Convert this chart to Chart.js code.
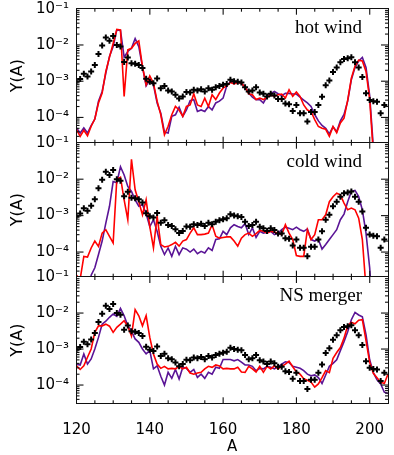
<!DOCTYPE html>
<html>
<head>
<meta charset="utf-8">
<script src="https://cdn.jsdelivr.net/npm/chart.js@4.4.1/dist/chart.umd.min.js"></script>
<style>
  html, body { margin: 0; padding: 0; background: #fff; }
  #wrap { position: relative; width: 394px; height: 455px; }
  #wrap canvas { position: absolute; left: 0; top: 0; }
  .frame { position: absolute; box-sizing: border-box; border: 1.3px solid #111; pointer-events: none; }
</style>
</head>
<body>
<div id="wrap">
  <canvas id="hot-chart" width="394" height="455"></canvas>
  <canvas id="cold-chart" width="394" height="455"></canvas>
  <canvas id="merger-chart" width="394" height="455"></canvas>
  <canvas id="frame-layer" width="394" height="455"></canvas>
</div>
<script>
/* ============================================= */
/*                    Data                       */
/* ============================================= */
const massNumbers = [
  120, 121, 122, 123, 124, 125, 126, 127, 128, 129,
  130, 131, 132, 133, 134, 135, 136, 137, 138, 139,
  140, 141, 142, 143, 144, 145, 146, 147, 148, 149,
  150, 151, 152, 153, 154, 155, 156, 157, 158, 159,
  160, 161, 162, 163, 164, 165, 166, 167, 168, 169,
  170, 171, 172, 173, 174, 175, 176, 177, 178, 179,
  180, 181, 182, 183, 184, 185, 186, 187, 188, 189,
  190, 191, 192, 193, 194, 195, 196, 197, 198, 199,
  200, 201, 202, 203, 204, 205,
];

// black crosses (same in every panel)
const solarAbundance = [
  9.8e-4, 1.14e-3, 1.6e-3, 1.35e-3, 1.85e-3, 2.8e-3, 5.6e-3, 9.6e-3, 1.6e-2, 1.3e-2,
  1.77e-2, 1.0e-2, 9.0e-3, 3.4e-3, 4.5e-3, 3.1e-3, 3.0e-3, 2.8e-3, 2.3e-3, 1.16e-3,
  9.6e-4, 8.8e-4, 1.18e-3, 6.4e-4, 7.4e-4, 5.5e-4, 5.2e-4, 4.2e-4, 3.3e-4, 3.8e-4,
  5.0e-4, 4.9e-4, 5.8e-4, 5.5e-4, 6.0e-4, 5.2e-4, 6.4e-4, 5.8e-4, 6.8e-4, 7.4e-4,
  7.9e-4, 8.4e-4, 1.09e-3, 1.0e-3, 9.6e-4, 9.2e-4, 6.8e-4, 5.2e-4, 5.5e-4, 6.8e-4,
  4.9e-4, 4.5e-4, 3.8e-4, 4.5e-4, 4.0e-4, 3.2e-4, 3.2e-4, 2.4e-4, 2.3e-4, 1.5e-4,
  2.2e-4, 1.3e-4, 1.3e-4, 7.7e-5, 1.4e-4, 1.4e-4, 2.2e-4, 3.7e-4, 7.7e-4, 1.05e-3,
  1.8e-3, 2.4e-3, 3.3e-3, 4.1e-3, 4.3e-3, 4.6e-3, 3.3e-3, 2.4e-3, 1.3e-3, 4.6e-4,
  3.0e-4, 2.8e-4, 2.7e-4, 1.3e-4, 2.2e-4, null,
];

// hot wind
const hotPurple = [
  5.1e-5, 3.7e-5, 5.1e-5, 3.7e-5, 5.9e-5, 9.0e-5, 2.8e-4, 5.2e-4, 1.66e-3, 4.8e-3,
  9.0e-3, 2.6e-2, 2.5e-2, 4.6e-3, 6.6e-3, 8.1e-3, 1.5e-2, 9.0e-3, 2.5e-3, 7.4e-4,
  1.09e-3, 7.9e-4, 2.5e-4, 1.3e-4, 3.9e-5, 3.7e-5, 1.07e-4, 1.18e-4, 1.9e-4, 1.07e-4,
  1.6e-4, 2.9e-4, 3.1e-4, 1.46e-4, 1.6e-4, 1.46e-4, 2.0e-4, 1.6e-4, 2.5e-4, 2.8e-4,
  3.4e-4, 7.4e-4, 9.8e-4, 8.4e-4, 9.8e-4, 8.4e-4, 7.1e-4, 4.7e-4, 3.6e-4, 3.1e-4,
  3.1e-4, 2.5e-4, 3.8e-4, 4.5e-4, 5.2e-4, 4.5e-4, 4.0e-4, 4.6e-4, 4.6e-4, 4.4e-4,
  4.4e-4, 3.6e-4, 3.0e-4, 2.5e-4, 2.0e-4, 1.2e-4, 8.0e-5, 6.0e-5, 5.0e-5, 3.5e-5,
  5.5e-5, 4.0e-5, 8.0e-5, 1.2e-4, 2.8e-4, 1.1e-3, 2.4e-3, 3.6e-3, 4.5e-3, 2.4e-3,
  4.0e-4, 1.5e-5, null, null, null, null,
];
const hotRed = [
  4.6e-5, 3.0e-5, 4.4e-5, 3.1e-5, 5.7e-5, 9.0e-5, 2.5e-4, 4.7e-4, 1.85e-3, 4.6e-3,
  1.1e-2, 2.7e-2, 2.6e-2, 3.8e-4, 7.3e-3, 8.1e-3, 1.1e-2, 1.3e-2, 2.5e-3, 7.9e-4,
  1.4e-3, 8.8e-4, 2.8e-4, 1.18e-4, 3.3e-5, 5.7e-5, 1.18e-4, 2.0e-4, 1.6e-4, 1.07e-4,
  2.0e-4, 2.2e-4, 4.5e-4, 2.2e-4, 2.0e-4, 3.4e-4, 2.0e-4, 4.2e-4, 3.1e-4, 4.7e-4,
  6.4e-4, 7.4e-4, 9.2e-4, 8.4e-4, 9.2e-4, 8.8e-4, 6.8e-4, 4.5e-4, 4.2e-4, 3.1e-4,
  3.4e-4, 3.1e-4, 3.6e-4, 4.2e-4, 3.8e-4, 4.2e-4, 4.4e-4, 3.4e-4, 5.8e-4, 3.8e-4,
  5.0e-4, 3.8e-4, 2.2e-4, 1.6e-4, 1.45e-4, 8.7e-5, 5.6e-5, 5.0e-5, 4.7e-5, 3.0e-5,
  5.6e-5, 3.8e-5, 7.0e-5, 9.5e-5, 3.0e-4, 1.2e-3, 2.6e-3, 3.8e-3, 3.6e-3, 1.85e-3,
  3.2e-4, 1.0e-5, null, null, null, null,
];

// cold wind
const coldPurple = [
  null, null, null, 1.0e-6, 2.3e-5, 3.7e-5, 8.5e-5, 2.0e-4, 6.2e-4, 1.8e-3,
  8.6e-3, 8.0e-3, 2.2e-2, 1.3e-2, 6.3e-3, 4.6e-3, 2.7e-3, 1.8e-3, 2.0e-3, 1.12e-3,
  5.0e-4, 7.7e-4, 3.7e-4, 1.43e-4, 8.5e-5, 1.29e-4, 7.6e-5, 1.43e-4, 8.5e-5, 1.3e-4,
  1.2e-4, 1.0e-4, 1.2e-4, 9.0e-5, 1.04e-4, 9.4e-5, 1.3e-4, 1.1e-4, 2.2e-4, 2.3e-4,
  3.7e-4, 3.0e-4, 4.6e-4, 5.6e-4, 5.0e-4, 4.6e-4, 6.0e-4, 3.0e-4, 4.6e-4, 2.5e-4,
  3.7e-4, 3.3e-4, 3.5e-4, 3.7e-4, 3.0e-4, 3.3e-4, 4.1e-4, 4.8e-4, 4.5e-4, 4.1e-4,
  4.8e-4, 4.1e-4, 3.7e-4, 4.3e-4, 2.2e-4, 2.0e-4, 2.2e-4, 1.2e-4, 1.6e-4, 2.2e-4,
  3.0e-4, 4.1e-4, 7.7e-4, 1.1e-3, 2.4e-3, 4.6e-3, 4.9e-3, 3.3e-3, 1.44e-3, 3.3e-4,
  3.7e-5, 1.0e-6, null, null, null, null,
];
const coldRed = [
  2.3e-5, 1.8e-5, 7.6e-5, 7.3e-5, 1.29e-4, 2.0e-4, 1.43e-4, 3.3e-4, 4.1e-4, 2.7e-4,
  1.77e-4, 9.9e-3, 1.13e-2, 2.7e-3, 7.7e-4, 3.5e-2, 5.1e-3, 2.4e-3, 1.05e-3, 2.7e-3,
  5.0e-4, 1.29e-4, 9.5e-4, 1.6e-4, 1.37e-4, 1.43e-4, 1.6e-4, 1.84e-4, 1.45e-4, 2.0e-4,
  2.2e-4, 3.3e-4, 4.6e-4, 3.0e-4, 3.0e-4, 3.1e-4, 3.3e-4, 5.6e-4, 2.7e-4, 2.4e-4,
  2.5e-4, 2.6e-4, 2.6e-4, 2.0e-4, 1.45e-4, 2.4e-4, 3.0e-4, 3.3e-4, 2.7e-4, 3.2e-4,
  3.9e-4, 3.7e-4, 3.3e-4, 3.7e-4, 3.5e-4, 3.3e-4, 3.0e-4, 5.6e-4, 3.3e-4, 2.2e-4,
  8.0e-5, 7.6e-5, 7.6e-5, 4.1e-4, 2.2e-4, 3.0e-4, 7.7e-4, 7.7e-4, 1.05e-3, 2.4e-3,
  3.3e-3, 4.1e-3, 3.7e-3, 2.2e-3, 1.44e-3, 1.6e-3, 1.44e-3, 8.5e-4, 2.2e-4, 1.0e-5,
  null, null, null, null, null, null,
];

// NS merger
const mergerPurple = [
  3.8e-4, 3.6e-4, 7.3e-4, 3.8e-4, 5.3e-4, 1.0e-3, 2.1e-3, 4.9e-3, 5.9e-3, 7.6e-3,
  9.4e-3, 8.1e-3, 1.35e-2, 8.4e-3, 4.4e-3, 3.2e-3, 1.9e-3, 1.53e-3, 1.0e-3, 7.3e-4,
  9.0e-4, 2.8e-4, 3.4e-4, 1.74e-4, 1.0e-4, 2.25e-4, 1.53e-4, 2.7e-4, 1.47e-4, 3.1e-4,
  2.9e-4, 2.25e-4, 2.7e-4, 1.63e-4, 2.0e-4, 1.53e-4, 2.25e-4, 2.0e-4, 3.1e-4, 2.9e-4,
  5.1e-4, 5.1e-4, 5.1e-4, 4.7e-4, 5.1e-4, 4.3e-4, 3.6e-4, 3.6e-4, 3.3e-4, 2.5e-4,
  2.9e-4, 2.8e-4, 3.3e-4, 3.1e-4, 2.8e-4, 3.2e-4, 3.8e-4, 4.4e-4, 4.2e-4, 3.3e-4,
  3.1e-4, 2.9e-4, 2.5e-4, 2.0e-4, 1.8e-4, 1.9e-4, 1.6e-4, 1.1e-4, 1.9e-4, 3.3e-4,
  4.0e-4, 5.0e-4, 9.0e-4, 1.6e-3, 3.0e-3, 6.5e-3, 1.04e-2, 8.8e-3, 7.8e-3, 2.5e-3,
  5.0e-4, 2.2e-4, 1.4e-4, 1.07e-4, 6.3e-5, 5.8e-5,
];
const mergerRed = [
  3.4e-4, 2.7e-4, 3.4e-4, 5.9e-4, 1.0e-3, 2.9e-3, 4.4e-3, 4.4e-3, 4.9e-3, 4.3e-3,
  2.9e-3, 4.0e-3, 4.9e-3, 6.1e-3, 4.3e-3, 2.3e-3, 1.24e-2, 8.4e-3, 4.4e-3, 8.4e-3,
  2.1e-3, 7.3e-4, 3.8e-4, 2.9e-4, 3.3e-4, 2.8e-4, 2.9e-4, 2.8e-4, 3.3e-4, 2.8e-4,
  3.1e-4, 2.15e-4, 2.0e-4, 2.15e-4, 2.25e-4, 2.8e-4, 3.3e-4, 3.1e-4, 3.6e-4, 3.4e-4,
  2.8e-4, 2.9e-4, 2.8e-4, 2.8e-4, 3.1e-4, 2.3e-4, 2.25e-4, 3.3e-4, 2.8e-4, 2.3e-4,
  3.3e-4, 2.25e-4, 3.3e-4, 2.8e-4, 3.4e-4, 2.8e-4, 3.3e-4, 3.8e-4, 4.6e-4, 3.2e-4,
  2.3e-4, 2.0e-4, 1.5e-4, 1.35e-4, 1.2e-4, 8.7e-5, 1.07e-4, 1.6e-4, 2.5e-4, 2.2e-4,
  5.5e-4, 8.0e-4, 1.1e-3, 2.0e-3, 4.5e-3, 5.5e-3, 5.0e-3, 6.3e-3, 6.5e-3, 1.7e-3,
  4.3e-4, 2.1e-4, 1.6e-4, 1.2e-4, 1.1e-4, 2.0e-4,
];

const xTickValues = [120, 140, 160, 180, 200];
const yTickValues = [1e-4, 1e-3, 1e-2, 1e-1];
const yTickLabels = ["10⁻⁴", "10⁻³", "10⁻²", "10⁻¹"];

const purple = "#5a1496";
const red = "#ff0000";

/* ============================================= */
/*                 Panel label                   */
/* ============================================= */
const panelLabel = {
  id: "panelLabel",
  afterDraw(chart, args, opts) {
    const ctx = chart.ctx;
    ctx.save();
    ctx.fillStyle = "#000";
    ctx.font = '19px "Liberation Serif"';
    ctx.textAlign = "right";
    ctx.textBaseline = "alphabetic";
    ctx.fillText(opts.label, 362, chart.scales.y.top + 24);
    ctx.restore();
  },
};

function toPoints(values) {
  return massNumbers.map((a, i) => ({ x: a, y: values[i] }));
}

function makePanel(canvasId, purpleValues, redValues, yMin, label, padTop, padBottom, showX) {
  return new Chart(document.getElementById(canvasId), {
    type: "line",
    data: {
      datasets: [
        {
          data: toPoints(solarAbundance),
          showLine: false,
          pointStyle: "cross",
          pointRadius: 3,
          borderColor: "#000",
          borderWidth: 2,
          clip: 0,
        },
        {
          data: toPoints(redValues),
          borderColor: red,
          borderWidth: 1.6,
          pointRadius: 0,
          clip: 0,
        },
        {
          data: toPoints(purpleValues),
          borderColor: purple,
          borderWidth: 1.6,
          pointRadius: 0,
          clip: 0,
        },
      ],
    },
    options: {
      responsive: false,
      animation: false,
      layout: { padding: { top: padTop, bottom: padBottom, left: 0, right: 1.4 } },
      plugins: {
        legend: { display: false },
        tooltip: { enabled: false },
        panelLabel: { label: label },
      },
      scales: {
        x: {
          type: "linear",
          min: 120,
          max: 205,
          display: showX,
          afterFit(s) {
            s.height = showX ? 51.7 : 0;
            s.paddingLeft = 0;
            s.paddingRight = 0;
          },
          afterBuildTicks(s) { s.ticks = xTickValues.map((v) => ({ value: v })); },
          grid: { display: false, drawTicks: false },
          border: { display: false },
          ticks: {
            color: "#000",
            padding: 18,
            font: { family: "DejaVu Sans", size: 15 },
          },
          title: {
            display: true,
            text: "A",
            color: "#000",
            font: { family: "DejaVu Sans", size: 15, lineHeight: 1 },
            padding: { top: 0, bottom: 0.5 },
          },
        },
        y: {
          type: "logarithmic",
          min: yMin,
          max: 0.1,
          afterFit(s) {
            s.width = 76.5;
            s.paddingTop = 0;
            s.paddingBottom = 0;
          },
          afterBuildTicks(s) { s.ticks = yTickValues.map((v) => ({ value: v })); },
          grid: { display: false, drawTicks: false },
          border: { display: false },
          ticks: {
            color: "#000",
            padding: 7.5,
            autoSkip: false,
            font: { family: "DejaVu Sans", size: 15 },
            callback: (v) => yTickLabels[yTickValues.findIndex((t) => Math.abs(t / v - 1) < 1e-6)],
          },
          title: {
            display: true,
            text: "Y(A)",
            color: "#000",
            font: { family: "DejaVu Sans", size: 16 },
            padding: { top: 8, bottom: 0 },
          },
        },
      },
    },
    plugins: [panelLabel],
  });
}

/* ============================================= */
/*                  Panels                       */
/* ============================================= */
const hotChart = makePanel("hot-chart", hotPurple, hotRed, 2.0e-5, "hot wind", 8.7, 312.3, false);
const coldChart = makePanel("cold-chart", coldPurple, coldRed, 2.1e-5, "cold wind", 142.7, 178.3, false);
const mergerChart = makePanel("merger-chart", mergerPurple, mergerRed, 3.1e-5, "NS merger", 277, 0, true);

/* ============================================= */
/*        Frames and inward ticks (top layer)    */
/* ============================================= */
const wrap = document.getElementById("wrap");
const frameCtx = document.getElementById("frame-layer").getContext("2d");

function drawFrame(chart) {
  const xs = chart.scales.x;
  const ys = chart.scales.y;
  const L = xs.left;
  const R = xs.right;
  const T = ys.top;
  const B = ys.bottom;

  // box as a plain element so it does not depend on the canvas layers
  const box = document.createElement("div");
  box.className = "frame";
  box.style.left = (L - 0.65) + "px";
  box.style.top = (T - 0.65) + "px";
  box.style.width = (R - L + 1.3) + "px";
  box.style.height = (B - T + 1.3) + "px";
  wrap.appendChild(box);

  frameCtx.fillStyle = "#111";
  for (let v = 125; v < 205; v += 5) {
    const px = xs.getPixelForValue(v);
    const len = v % 20 === 0 ? 6 : 3;
    frameCtx.fillRect(px - 0.5, B - len, 1.1, len);
    frameCtx.fillRect(px - 0.5, T, 1.1, len);
  }
  for (let e = -5; e <= -1; e++) {
    for (let k = 1; k <= 9; k++) {
      const v = k * Math.pow(10, e);
      if (v <= ys.min || v >= ys.max) continue;
      const py = ys.getPixelForValue(v);
      const len = k === 1 ? 7 : 3;
      frameCtx.fillRect(L, py - 0.5, len, 1.1);
      frameCtx.fillRect(R - len, py - 0.5, len, 1.1);
    }
  }
}

[hotChart, coldChart, mergerChart].forEach(drawFrame);
</script>
</body>
</html>
